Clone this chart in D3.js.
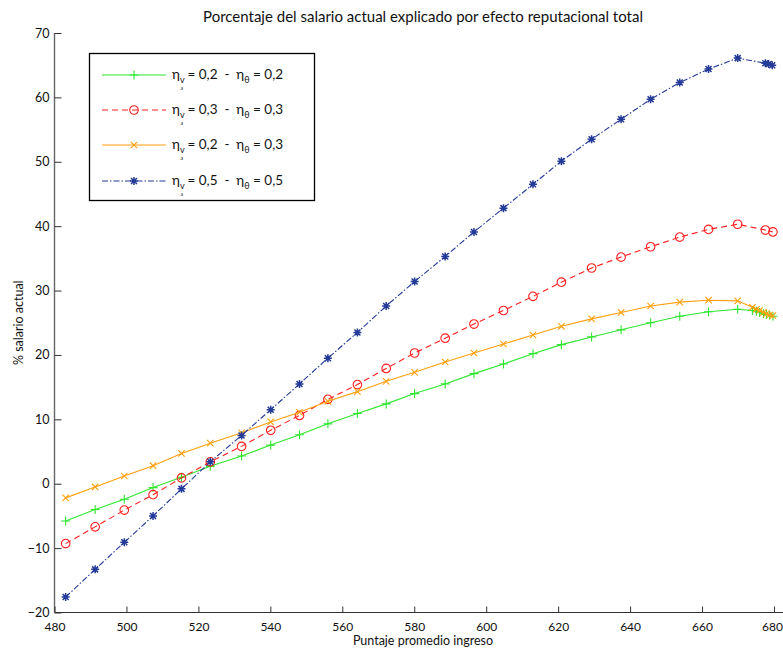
<!DOCTYPE html>
<html>
<head>
<meta charset="utf-8">
<script src="https://cdn.jsdelivr.net/npm/d3@7/dist/d3.min.js"></script>
<style>
  body { margin: 0; background: #fff; }
  svg { display: block; }
  text { font-family: Lato, "Open Sans", "DejaVu Sans", sans-serif; fill: #111; }
</style>
</head>
<body>
<svg id="chart" width="783" height="649"></svg>
<script>
// Puntaje promedio de ingreso (eje X), común a las cuatro curvas
const puntaje = [483.1, 491.3, 499.4, 507.4, 515.3, 523.3, 532.0, 540.1, 548.1, 556.0,
                 564.2, 572.2, 580.1, 588.6, 596.6, 604.8, 613.0, 620.9, 629.3, 637.5,
                 645.7, 653.8, 661.8, 669.9];
// Tramos finales de cada curva
const colaFina   = [674.0, 675.1, 676.0, 677.1, 677.9, 678.8, 679.7];
const colaAzul   = [677.6, 678.5, 679.5];
const colaRoja   = [677.6, 679.7];

// % del salario actual explicado por efecto reputacional
const eta02_02 = [-5.8, -4.0, -2.4, -0.6, 1.0, 2.7, 4.3, 6.0, 7.6, 9.3, 10.9, 12.4, 14.0,
                  15.5, 17.1, 18.6, 20.2, 21.6, 22.8, 23.9, 25.0, 26.0, 26.7, 27.1,
                  26.9, 26.8, 26.6, 26.4, 26.3, 26.2, 26.0];
const eta03_03 = [-9.3, -6.7, -4.1, -1.7, 0.9, 3.4, 5.8, 8.3, 10.6, 13.1, 15.4, 17.9, 20.3,
                  22.6, 24.8, 26.9, 29.1, 31.3, 33.5, 35.2, 36.8, 38.3, 39.5, 40.3,
                  39.4, 39.1];
const eta02_03 = [-2.2, -0.5, 1.2, 2.8, 4.7, 6.3, 7.9, 9.6, 11.1, 12.8, 14.3, 15.9, 17.3,
                  18.9, 20.3, 21.7, 23.1, 24.45, 25.6, 26.6, 27.6, 28.2, 28.5, 28.4,
                  27.4, 27.1, 26.9, 26.6, 26.4, 26.2, 26.1];
const eta05_05 = [-17.6, -13.3, -9.1, -5.0, -0.8, 3.4, 7.5, 11.5, 15.5, 19.5, 23.5, 27.6,
                  31.4, 35.3, 39.1, 42.8, 46.5, 50.1, 53.5, 56.6, 59.7, 62.3, 64.4, 66.1,
                  65.3, 65.2, 65.0];

const xTicks = [480, 500, 520, 540, 560, 580, 600, 620, 640, 660, 680];
const yTicks = [-20, -10, 0, 10, 20, 30, 40, 50, 60, 70];

const etaVa = ["0,2", "0,3", "0,2", "0,5"];
const etaTheta = ["0,2", "0,3", "0,3", "0,5"];

const titulo = "Porcentaje del salario actual explicado por efecto reputacional total";
const ejeX = "Puntaje promedio ingreso";
const ejeY = "% salario actual";

const series = [
  { xs: puntaje.concat(colaFina), ys: eta02_02, color: "#2fe62f", dash: null,  marker: "plus" },
  { xs: puntaje.concat(colaRoja), ys: eta03_03, color: "#ff1f1f", dash: "6,4", marker: "circle" },
  { xs: puntaje.concat(colaFina), ys: eta02_03, color: "#ffa00f", dash: null,  marker: "cross" },
  { xs: puntaje.concat(colaAzul), ys: eta05_05, color: "#243a98", dash: "6,2,1.5,2", marker: "star" }
];

const svg = d3.select("#chart");

const x = d3.scaleLinear().domain([480, 680]).range([54.5, 774]);
const y = d3.scaleLinear().domain([-20, 70]).range([612.5, 33]);

// Ejes (solo izquierdo e inferior, marcas hacia dentro)
const axisColor = "#333";
svg.append("line").attr("x1", x(480)).attr("x2", 783).attr("y1", y(-20)).attr("y2", y(-20))
  .attr("stroke", axisColor).attr("stroke-width", 1.2);
svg.append("line").attr("x1", x(480)).attr("x2", x(480)).attr("y1", y(-20)).attr("y2", y(70))
  .attr("stroke", "#666").attr("stroke-width", 1.4);

const xAxis = d3.axisBottom(x).tickValues(xTicks).tickSizeInner(-6).tickSizeOuter(0)
  .tickPadding(10).tickFormat(d3.format("d"));
const gx = svg.append("g").attr("transform", `translate(0,${y(-20)})`).call(xAxis);
gx.select(".domain").remove();
gx.selectAll("line").attr("stroke", axisColor);
gx.selectAll("text").attr("font-size", 12).attr("fill", "#111")
  .attr("font-family", "Lato, 'Open Sans', sans-serif")
  .attr("dx", d => d === 680 ? -2 : 0);

const yAxis = d3.axisLeft(y).tickValues(yTicks).tickSizeInner(-7).tickSizeOuter(0)
  .tickPadding(5).tickFormat(d3.format("d"));
const gy = svg.append("g").attr("transform", `translate(${x(480)},0)`).call(yAxis);
gy.select(".domain").remove();
gy.selectAll("line").attr("stroke", axisColor);
gy.selectAll("text").attr("font-size", 12.5).attr("fill", "#111")
  .attr("font-family", "Lato, 'Open Sans', sans-serif");

// Títulos
svg.append("text").attr("x", 423).attr("y", 22).attr("text-anchor", "middle")
  .attr("font-size", 15).text(titulo);
svg.append("text").attr("x", 423).attr("y", 645).attr("text-anchor", "middle")
  .attr("font-size", 12.5).text(ejeX);
svg.append("text").attr("transform", `translate(23,${(y(-20) + y(70)) / 2}) rotate(-90)`)
  .attr("text-anchor", "middle").attr("font-size", 12.5).text(ejeY);

// Marcadores
function markerPath(type) {
  const p = d3.path();
  if (type === "plus") {
    p.moveTo(-4.5, 0); p.lineTo(4.5, 0); p.moveTo(0, -4.5); p.lineTo(0, 4.5);
  } else if (type === "cross") {
    p.moveTo(-3.2, -3.2); p.lineTo(3.2, 3.2); p.moveTo(-3.2, 3.2); p.lineTo(3.2, -3.2);
  } else if (type === "circle") {
    p.arc(0, 0, 4.3, 0, 2 * Math.PI);
  } else if (type === "star") {
    p.moveTo(-4, 0); p.lineTo(4, 0); p.moveTo(0, -4); p.lineTo(0, 4);
    p.moveTo(-3, -3); p.lineTo(3, 3); p.moveTo(-3, 3); p.lineTo(3, -3);
  }
  return p.toString();
}

const line = d3.line().x(d => x(d[0])).y(d => y(d[1]));
const plot = svg.append("g");

series.forEach(s => {
  const pts = s.xs.map((v, i) => [v, s.ys[i]]);
  plot.append("path").datum(pts).attr("d", line).attr("fill", "none")
    .attr("stroke", s.color).attr("stroke-width", 1.1)
    .attr("stroke-dasharray", s.dash);
  plot.append("g").selectAll("path").data(pts).join("path")
    .attr("transform", d => `translate(${x(d[0])},${y(d[1])})`)
    .attr("d", markerPath(s.marker)).attr("fill", "none")
    .attr("stroke", s.color).attr("stroke-width", s.marker === "star" ? 1.5 : 1.1);
});

// Leyenda
const leg = svg.append("g");
leg.append("rect").attr("x", 89.5).attr("y", 53.5).attr("width", 225).attr("height", 147)
  .attr("fill", "#fff").attr("stroke", "#000").attr("stroke-width", 1.3);
const rowY = [75, 110, 145, 181];
series.forEach((s, i) => {
  const ry = rowY[i];
  leg.append("line").attr("x1", 102).attr("x2", 166).attr("y1", ry).attr("y2", ry)
    .attr("stroke", s.color).attr("stroke-width", 1.1).attr("stroke-dasharray", s.dash);
  leg.append("path").attr("transform", `translate(134,${ry})`).attr("d", markerPath(s.marker))
    .attr("fill", "none").attr("stroke", s.color)
    .attr("stroke-width", s.marker === "star" ? 1.5 : 1.1);
  const t = leg.append("text").attr("x", 172).attr("y", ry + 4).attr("font-size", 13.5)
    .style("white-space", "pre");
  t.append("tspan").text("η");
  t.append("tspan").attr("dy", 4).attr("font-size", 9).text("v");
  t.append("tspan").attr("dy", 7).attr("dx", -4).attr("font-size", 5).text("a");
  t.append("tspan").attr("dy", -11).attr("dx", 1).attr("font-size", 13.5).text(` = ${etaVa[i]}  -  η`);
  t.append("tspan").attr("dy", 4).attr("font-size", 9).text("θ");
  t.append("tspan").attr("dy", -4).attr("font-size", 13.5).text(` = ${etaTheta[i]}`);
});
</script>
</body>
</html>
